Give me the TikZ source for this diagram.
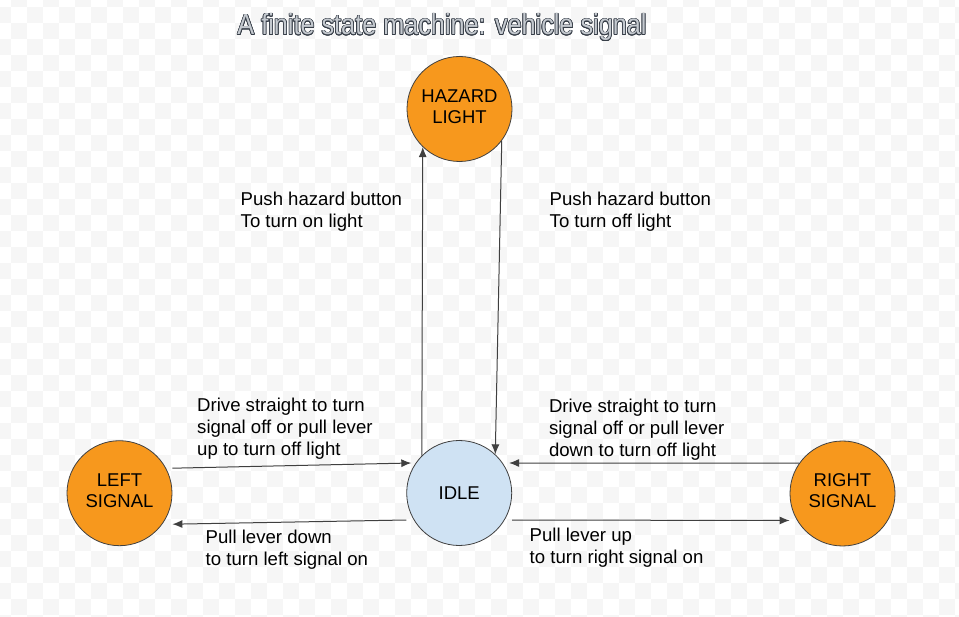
\documentclass[tikz,border=0pt]{standalone}
\usepackage{fontspec}
\setmainfont{Liberation Sans}
\usepackage{graphicx}
\usepackage{contour}
\usetikzlibrary{arrows.meta}
\definecolor{signalorange}{RGB}{247,152,29}
\definecolor{idleblue}{RGB}{207,226,243}
\definecolor{edgegray}{RGB}{64,64,64}
\definecolor{checkgray}{RGB}{246,246,246}
\definecolor{titlefill}{RGB}{196,201,207}
\definecolor{titleline}{RGB}{55,62,72}
\tikzstyle{state node}=[circle,draw=edgegray,line width=0.8pt,minimum size=105pt,inner sep=0,align=center,text depth=5pt,font=\fontsize{18.5}{21}\selectfont]
\tikzstyle{trans}=[draw=edgegray,line width=1pt,-{Latex[length=10pt,width=8pt]}]
\tikzstyle{trans text}=[anchor=north west,inner sep=0,align=left,font=\fontsize{18.6}{22}\selectfont]
\contourlength{0.8pt}

\begin{document}
\begin{tikzpicture}[x=1pt,y=-1pt]
		\useasboundingbox (0,0) rectangle (959,617);
		% background squares
		\begin{scope}
			\clip (0,0) rectangle (959,617);
			\foreach \x in {-21,11,...,960}
				\foreach \y in {-8.7,23.3,...,620}
				{
					\fill[checkgray] (\x,\y) rectangle ++(16,16);
					\fill[checkgray] (\x+16,\y+16) rectangle ++(16,16);
				};
		\end{scope}

		\node(title)[anchor=base] at (442,35) {\fontsize{29}{30}\selectfont\scalebox{0.87}[1]{\color{titlefill}\contour{titleline}{A finite state machine: vehicle signal}}};

		% states
		\node(hazard)[state node,fill=signalorange] at (459.5,109) {HAZARD\\LIGHT};
		\node(idle)[state node,fill=idleblue,text depth=0pt] at (459.2,493) {IDLE};
		\node(lsig)[state node,fill=signalorange] at (119.5,493.2) {LEFT\\SIGNAL};
		\node(rsig)[state node,fill=signalorange] at (842.5,493.5) {RIGHT\\SIGNAL};

		% transitions
		\draw[trans] (idle.135) -- (hazard.226);
		\draw[trans] (hazard.-37) -- (idle.47);
		\draw[trans] ([yshift=25pt]lsig.east) -- ([yshift=30pt,xshift=5pt]idle.west);
		\draw[trans] ([yshift=-27pt]idle.west) -- ([yshift=-31pt]lsig.east);
		\draw[trans] (rsig.145) -- ([yshift=30pt,xshift=-3pt]idle.east);
		\draw[trans] ([yshift=-27pt]idle.east) -- ([yshift=-27pt]rsig.west);

		% labels
		\node(hazon)[trans text] at (240.5,191.4) {Push hazard button\\To turn on light};
		\node(hazoff)[trans text] at (549.5,191.4) {Push hazard button\\To turn off light};
		\node(lsigoff)[trans text] at (197,398.1) {Drive straight to turn\\signal off or pull lever\\up to turn off light};
		\node(rsigoff)[trans text] at (548.8,399.1) {Drive straight to turn\\signal off or pull lever\\down to turn off light};
		\node(lsigon)[trans text] at (205.5,529.7) {Pull lever down\\to turn left signal on};
		\node(rsigon)[trans text] at (529.5,527.4) {Pull lever up\\to turn right signal on};

\end{tikzpicture}
\end{document}
